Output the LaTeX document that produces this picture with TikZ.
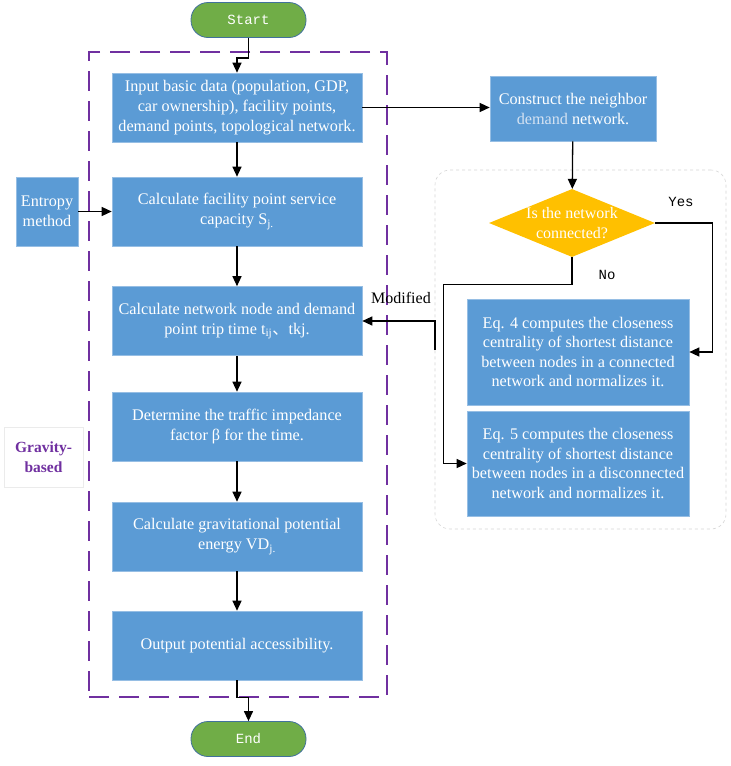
\documentclass[tikz,border=0pt]{standalone}
\usepackage{fontspec}
\setmainfont{Liberation Serif}
\newfontfamily\monofont{Liberation Mono}
\newfontfamily\cjk{Noto Sans CJK SC}
\usetikzlibrary{shapes.geometric,arrows.meta}

\definecolor{boxblue}{RGB}{91,155,213}
\definecolor{boxedge}{RGB}{150,190,228}
\definecolor{termgreen}{RGB}{112,173,71}
\definecolor{termedge}{RGB}{65,113,156}
\definecolor{decgold}{RGB}{255,192,0}
\definecolor{gravpurple}{RGB}{112,48,160}
\definecolor{framegray}{RGB}{212,212,212}
\definecolor{demandtxt}{RGB}{212,226,242}

\tikzset{
  process/.style={rectangle,fill=boxblue,draw=boxedge,line width=0.6pt,text=white,
    align=center,minimum width=250,minimum height=69,inner sep=0,
    font=\fontsize{16.2}{20}\selectfont},
  terminal/.style={rectangle,rounded corners=17,fill=termgreen,draw=termedge,line width=0.8pt,
    text=white,minimum width=115,minimum height=35,inner sep=0,
    font=\monofont\fontsize{14}{16}\selectfont},
  decision/.style={diamond,fill=decgold,minimum width=166,minimum height=68,inner sep=0},
  dectext/.style={text=white,align=center,font=\fontsize{16}{20}\selectfont},
  arr/.style={-{Triangle[length=10pt,width=9pt]},line width=1.3pt},
  note/.style={font=\monofont\fontsize{14}{16}\selectfont}
}

\begin{document}
\begin{tikzpicture}[x=1pt,y=-1pt]
\useasboundingbox (0,0) rectangle (731,766);

\node[rectangle,draw=gravpurple,line width=1.5pt,dash pattern=on 20pt off 10pt,
  minimum width=298,minimum height=645,inner sep=0] (gravframe) at (238,374.5) {};
\node[rectangle,draw=framegray,dashed,rounded corners=15,line width=0.6pt,
  minimum width=291,minimum height=359,inner sep=0] (netframe) at (580.5,349.5) {};

\node[terminal] (start) at (248.5,20) {Start};
\node[process] (input) at (237,107.5) {Input basic data (population, GDP,\\car ownership), facility points,\\demand points, topological network.};
\node[process] (capacity) at (237,211.5) {Calculate facility point service\\capacity S\textsubscript{j.}};
\node[process,minimum width=62] (entropy) at (47,211.5) {Entropy\\method};
\node[process] (triptime) at (237,321) {Calculate network node and demand\\point trip time t\textsubscript{ij}{\cjk 、}tkj.};
\node[process] (impedance) at (237,426.5) {Determine the traffic impedance\\factor β for the time.};
\node[process] (potential) at (237,536.5) {Calculate gravitational potential\\energy VD\textsubscript{j.}};
\node[process] (output) at (237,645.5) {Output potential accessibility.};
\node[terminal] (end) at (248.5,739) {End};

\node[rectangle,fill=white,draw=black!8,line width=0.8pt,minimum width=79,minimum height=60,
  align=center,text=gravpurple,font=\bfseries\fontsize{15.5}{20}\selectfont] (gravlbl) at (43.5,457) {Gravity-\\based};

\node[process,minimum width=166,minimum height=65] (neighbor) at (573,108.5) {Construct the neighbor\\{\color{demandtxt}demand} network.};
\node[decision,label={[dectext]center:Is the network\\connected?}] (conn) at (572,223) {};
\node[process,minimum width=222,minimum height=106,font=\fontsize{16.2}{19.5}\selectfont] (closed) at (578,352) {Eq. 4 computes the closeness\\centrality of shortest distance\\between nodes in a connected\\network and normalizes it.};
\node[process,minimum width=222,minimum height=105,font=\fontsize{16.2}{19.5}\selectfont] (opened) at (578,463.5) {Eq. 5 computes the closeness\\centrality of shortest distance\\between nodes in a disconnected\\network and normalizes it.};

\coordinate (modsrc) at (435,350);

\draw[arr] (start.south) -- ++(0,20) -| (input.north);
\draw[arr] (input) -- (capacity);
\draw[arr] (entropy) -- (capacity);
\draw[arr] (capacity) -- (triptime);
\draw[arr] (triptime) -- (impedance);
\draw[arr] (impedance) -- (potential);
\draw[arr] (potential) -- (output);
\draw[arr] (output.south) -- ++(0,17) -| (end.north);

\draw[arr] (input.east) -- (input.east -| neighbor.west);
\draw[arr] (neighbor) -- (conn);
\draw[arr] (conn.east) -- ++(57,0) |- (closed.east);
\draw[arr] (conn.south) -- ++(0,27) -| ([xshift=-23]opened.west) -- (opened.west);
\draw[arr] (modsrc) |- (triptime.east);

\node[note] (yes) at (681,202) {Yes};
\node[note] (no) at (607,275) {No};
\node[font=\fontsize{16}{20}\selectfont] (modlbl) at (401,298) {Modified};

\end{tikzpicture}
\end{document}
